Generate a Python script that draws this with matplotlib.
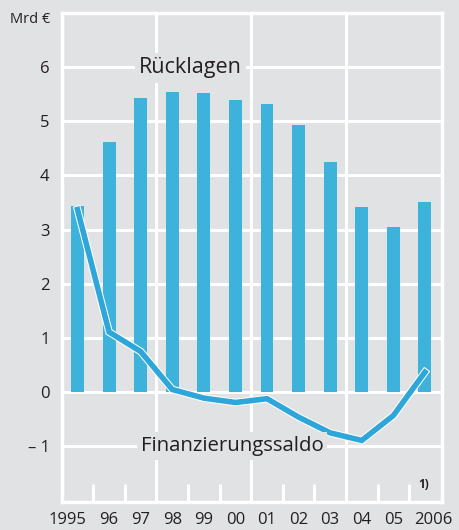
import matplotlib
matplotlib.use("Agg")
import matplotlib.pyplot as plt
import matplotlib.patheffects as pe
from matplotlib.transforms import ScaledTranslation

plt.rcParams['font.family'] = ['Open Sans', 'DejaVu Sans']

years = ["1995", "96", "97", "98", "99", "00", "01", "02", "03", "04", "05", "2006"]
reserves = [3.43, 4.62, 5.42, 5.54, 5.51, 5.39, 5.31, 4.92, 4.24, 3.41, 3.04, 3.50]
balance = [3.37, 1.11, 0.75, 0.05, -0.11, -0.19, -0.12, -0.46, -0.75, -0.89, -0.43, 0.37]
yticks = [-1, 0, 1, 2, 3, 4, 5, 6]
ytick_labels = ["– 1", "0", "1", "2", "3", "4", "5", "6"]

bg = '#e1e2e4'
bar_col = '#3db3dc'
line_col = '#2ea6da'
txt = '#231f20'

fig = plt.figure(figsize=(4.59, 5.30), dpi=100, facecolor=bg)
ax = fig.add_axes([62 / 459, 1 - 501.7 / 530, 380 / 459, 489 / 530])
ax.set_facecolor(bg)

x = list(range(len(years)))
ax.set_xlim(-0.49, 11.54)
ax.set_ylim(-2.02, 7)

# grid
for y in yticks:
    ax.axhline(y, color='white', lw=2.2, zorder=1)
for xv in [2.5, 5.5, 8.5]:
    ax.axvline(xv, color='white', lw=2.2, zorder=1)
ax.vlines([i + 0.5 for i in x[:-1]], -2.02, -1.7, color='white', lw=2.2, zorder=1)

for s in ax.spines.values():
    s.set_color('white')
    s.set_linewidth(2.5)

ax.bar(x, reserves, width=0.41, color=bar_col, zorder=2)
ax.plot(x, balance, color=line_col, lw=4, zorder=3, solid_joinstyle='miter',
        path_effects=[pe.Stroke(linewidth=5.5, foreground='white'), pe.Normal()])

ax.set_yticks(yticks)
ax.set_yticklabels(ytick_labels, fontsize=12, color=txt)
ax.set_xticks([])
ax.tick_params(axis='y', length=0, pad=9)

offsets = {0: -10 / 100, 11: 8 / 100}
for i, lab in enumerate(years):
    tr = ax.get_xaxis_transform() + ScaledTranslation(offsets.get(i, 0), 0, fig.dpi_scale_trans)
    ax.text(i, -0.021, lab, transform=tr, ha='center', va='top', fontsize=12, color=txt)

ax.text(-0.031, 0.987, "Mrd €", transform=ax.transAxes, ha='right', va='center',
        fontsize=10.5, color=txt)

ax.text(1.95, 5.98, "Rücklagen", ha='left', va='center', fontsize=15.5, color=txt, zorder=4,
        bbox=dict(facecolor=bg, edgecolor='none', pad=3))
ax.text(2.0, -1, "Finanzierungssaldo", ha='left', va='center', fontsize=14.7, color=txt,
        zorder=4, bbox=dict(facecolor=bg, edgecolor='none', pad=3))
ax.text(10.95, -1.7, "1)", ha='center', va='center', fontsize=8.5, fontweight='bold', color=txt)

fig.savefig("out.png", dpi=100, facecolor=bg)
